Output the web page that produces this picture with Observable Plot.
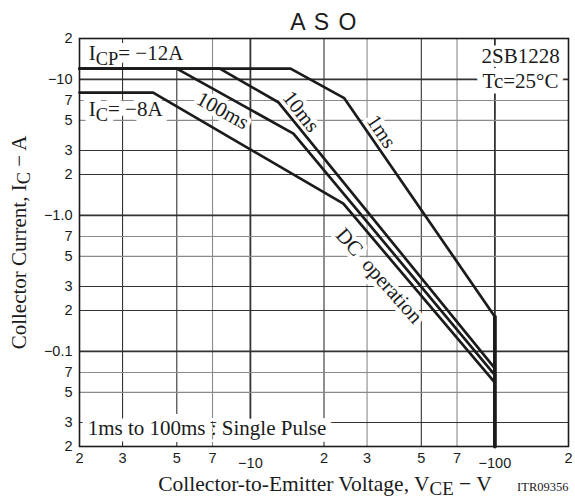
<!DOCTYPE html>
<html><head><meta charset="utf-8">
<script src="https://cdn.jsdelivr.net/npm/d3@7"></script>
<script src="https://cdn.jsdelivr.net/npm/@observablehq/plot@0.6"></script>
<style>html,body{margin:0;padding:0;background:#fff}</style>
</head><body><div id="chart"></div>
<script>
// ---- tick values and labels ----
const xTicks = [2, 3, 5, 7, 10, 20, 30, 50, 70, 100, 200];
const xTickLabels = ["2", "3", "5", "7", "−10", "2", "3", "5", "7", "−100", "2"];
const yTicks = [20, 10, 7, 5, 3, 2, 1, 0.7, 0.5, 0.3, 0.2, 0.1, 0.07, 0.05, 0.03, 0.02];
const yTickLabels = ["2", "−10", "7", "5", "3", "2", "−1.0", "7", "5", "3", "2", "−0.1", "7", "5", "3", "2"];
const xGrid = [3, 5, 7, 10, 20, 30, 50, 70, 100];
const yGrid = [0.03, 0.05, 0.07, 0.1, 0.2, 0.3, 0.5, 0.7, 1, 2, 3, 5, 7, 10];

// ---- curves (|VCE| in V, |IC| in A) ----
const dcV = [2, 4, 24, 100];
const dcI = [8, 8, 1.22, 0.059];
const ms100V = [2, 5, 15, 100];
const ms100I = [12, 12, 4.0, 0.067];
const ms10V = [2, 7.5, 13, 100];
const ms10I = [12, 12, 6.8, 0.075];
const ms1V = [2, 14.6, 24.2, 100];
const ms1I = [12, 12, 7.28, 0.18];
const limitV = [100, 100];
const limitI = [0.18, 0.02];

// ---- texts ----
const titleText = "A S O";
const xLabel = "Collector-to-Emitter Voltage, V_{CE} − V";
const codeLabel = "ITR09356";
const yLabel = "Collector Current, I_{C} − A";
const icpLabel = "I_{CP}= −12A";
const icLabel = "I_{C}= −8A";
const partLabel = "2SB1228";
const tcLabel = "Tc=25°C";
const pulseLabel = "1ms to 100ms : Single Pulse";
const curveLabels = ["100ms", "10ms", "1ms", "DC  operation"];

const pts = (V, I) => V.map((v, i) => ({v, i: I[i]}));
const isDecade = v => Math.abs(Math.log10(v) - Math.round(Math.log10(v))) < 1e-9;
const mant = v => Math.round(v / Math.pow(10, Math.floor(Math.log10(v) + 1e-9)));

const SERIF = "'Liberation Serif', 'Times New Roman', serif";
const SANS = "'Liberation Sans', Arial, sans-serif";
const INK = "#1b1b1b";
const AF = 21;

// annotation: a white halo copy, then the inked copy
function ann(label, opts, haloWidth = 8) {
  const base = {text: d => d, fontFamily: SERIF, fontSize: AF, ...opts};
  return [
    Plot.text([label], {...base, fill: "white", stroke: "white", strokeWidth: haloWidth}),
    Plot.text([label], {...base, fill: INK})
  ];
}

const xticks = xTicks.map((v, k) => ({v, t: xTickLabels[k], dec: isDecade(v) && v > 2 && v < 200}));
const yticks = yTicks.map((v, k) => ({v, t: yTickLabels[k]}));

const chart = Plot.plot({
  width: 575, height: 499,
  marginLeft: 79, marginRight: 7, marginTop: 38, marginBottom: 53,
  x: {type: "log", domain: [2, 200], axis: null},
  y: {type: "log", domain: [0.02, 20], axis: null},
  style: {background: "white", overflow: "visible"},
  marks: [
    Plot.ruleX(xGrid, {x: d => d, stroke: d => (mant(d) === 7 || mant(d) === 3 && d > 10) ? "#8a8a8a" : "#333",
      strokeWidth: d => isDecade(d) ? 1.8 : 1.1}),
    Plot.ruleY(yGrid, {y: d => d, stroke: d => (mant(d) === 7 || mant(d) === 5) ? "#8a8a8a" : "#333",
      strokeWidth: d => isDecade(d) ? 1.8 : 1.1}),
    ...ann(icpLabel, {x: 2.18, y: 13.8, textAnchor: "start", lineAnchor: "bottom"}, 14),
    ...ann(icLabel, {x: 2.18, y: 5.35, textAnchor: "start", lineAnchor: "bottom"}, 12),
    ...ann(partLabel, {x: 184, y: 13.3, textAnchor: "end", lineAnchor: "bottom"}),
    ...ann(tcLabel, {x: 182, y: 8.6, textAnchor: "end", lineAnchor: "bottom"}, 12),
    ...ann(pulseLabel, {x: 2.16, y: 0.0245, textAnchor: "start", lineAnchor: "bottom"}, 14),
    ...ann(curveLabels[0], {x: 7.7, y: 5.9, rotate: 29, lineAnchor: "middle"}),
    ...ann(curveLabels[1], {x: 16.1, y: 5.8, rotate: 52, lineAnchor: "middle"}),
    ...ann(curveLabels[2], {x: 34.3, y: 4.15, rotate: 56, lineAnchor: "middle"}),
    ...ann(curveLabels[3], {x: 33.6, y: 0.36, rotate: 48.5, lineAnchor: "middle"}),
    Plot.frame({stroke: INK, strokeWidth: 1.6}),
    // curves
    Plot.line(pts(dcV, dcI), {x: "v", y: "i", stroke: INK, strokeWidth: 2.7}),
    Plot.line(pts(ms100V, ms100I), {x: "v", y: "i", stroke: INK, strokeWidth: 2.7}),
    Plot.line(pts(ms10V, ms10I), {x: "v", y: "i", stroke: INK, strokeWidth: 2.7}),
    Plot.line(pts(ms1V, ms1I), {x: "v", y: "i", stroke: INK, strokeWidth: 2.7}),
    Plot.line(pts(limitV, limitI), {x: "v", y: "i", stroke: INK, strokeWidth: 3.8}),
    // tick labels
    Plot.text(xticks.filter(d => !d.dec), {x: "v", text: "t", frameAnchor: "bottom", lineAnchor: "top",
      dy: 6, fontFamily: SANS, fontSize: 14.5, fill: INK}),
    Plot.text(xticks.filter(d => d.dec), {x: "v", text: "t", frameAnchor: "bottom", lineAnchor: "top",
      dy: 11, fontFamily: SANS, fontSize: 14.5, fill: INK}),
    Plot.text(yticks, {y: "v", text: "t", frameAnchor: "left", textAnchor: "end", lineAnchor: "middle",
      dx: -7, fontFamily: SANS, fontSize: 14.5, fill: INK}),
    // title and axis labels
    Plot.text([titleText], {x: 20, text: d => d, frameAnchor: "top", lineAnchor: "bottom", dy: -9,
      fontFamily: SANS, fontSize: 23, fill: INK}),
    Plot.text([xLabel], {x: 4.2, text: d => d, frameAnchor: "bottom", textAnchor: "start", lineAnchor: "bottom", dy: 44,
      fontFamily: SERIF, fontSize: 21.5, fill: INK}),
    Plot.text([codeLabel], {x: 200, text: d => d, frameAnchor: "bottom", textAnchor: "end", lineAnchor: "bottom", dy: 44,
      fontFamily: SERIF, fontSize: 12.5, fill: INK}),
    Plot.text([yLabel], {y: 0.6325, text: d => d, frameAnchor: "left", textAnchor: "middle", lineAnchor: "bottom", dx: -54,
      rotate: -90, fontFamily: SERIF, fontSize: AF, fill: INK})
  ]
});
document.getElementById("chart").appendChild(chart);

// subscripts
d3.select(chart).selectAll("text").each(function() {
  const t = this.textContent;
  if (!t.includes("_{")) return;
  const fs = parseFloat(getComputedStyle(this).fontSize) || AF;
  const sel = d3.select(this);
  sel.text(null);
  const parts = t.split(/(_\{[^}]*\})/).filter(p => p);
  let down = false;
  parts.forEach(p => {
    if (p.startsWith("_{")) {
      sel.append("tspan").attr("dy", down ? 0 : fs * 0.22).attr("font-size", fs * 0.88).text(p.slice(2, -1));
      down = true;
    } else {
      sel.append("tspan").attr("dy", down ? -fs * 0.22 : 0).text(p);
      down = false;
    }
  });
});
// title letter spacing
d3.select(chart).selectAll("text").filter(function() { return this.textContent === titleText; })
  .style("letter-spacing", "1.5px");
</script>
</body></html>
